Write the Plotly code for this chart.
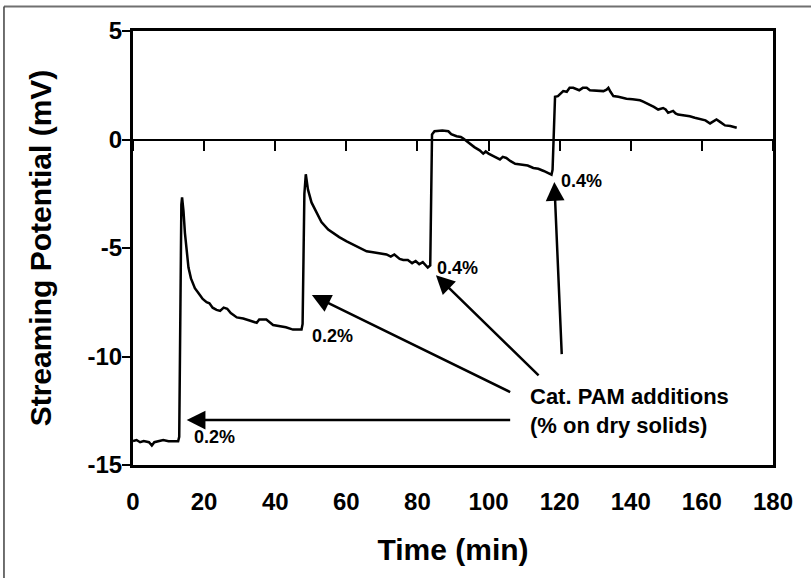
import plotly.graph_objects as go

# ---- data ----
time_min = [0, 1, 2, 3, 4.5, 5.3, 6, 7, 8.5, 10, 12.7,
            13.0, 13.2, 13.4, 13.6, 13.8, 14.2, 14.6, 15.1, 15.6, 16.3, 17.4, 18.5, 19.6, 20.7,
            21.5, 22.4, 23.5, 24.5, 25.5, 26.5, 27.5, 29.2, 31, 33, 34.8, 35.5, 37.5, 39.4, 41, 43, 45, 47.4,
            47.7, 47.9, 48.2, 48.6, 49.2, 50.2, 51.7, 53, 54.9, 56.5, 58, 60.1, 62, 64, 65.7, 67.5,
            69, 71.3, 72.5, 73.5, 75, 76, 77.3, 78.5, 79.5, 80.5, 81.5, 82.3, 82.9,
            83.6, 83.8, 84.0, 84.1, 84.8, 85.9, 87, 88.7, 89.5, 91, 92.2, 92.9, 94, 94.8, 96, 97.5,
            98.5, 99.2, 100, 101.5, 103.2, 104, 105, 106.2, 107.5, 109, 111, 112.6, 114, 115.5, 116.8, 117.7,
            118.0, 118.3, 118.7, 119.5, 120.3, 121, 122, 122.8, 123.8, 124.8, 125.5, 126.5, 127.6, 128.5,
            130, 132.3, 133.2, 133.7, 134.3, 135.1, 136.5, 138.8, 140.5, 142.6, 143.5, 145.4, 146.5, 147.7,
            149.1, 149.8, 150.5, 151.9, 152.6, 153.3, 155, 156.6, 158, 159.4, 161, 162.3, 163.2, 164.1,
            165.2, 166.5, 168, 169.8]
potential_mv = [-13.9, -13.85, -13.95, -13.9, -13.95, -14.1, -13.95, -13.9, -13.85, -13.9, -13.9,
                -13.7, -10.0, -6.0, -3.0, -2.67, -3.3, -4.3, -5.3, -5.9, -6.4, -6.85, -7.1, -7.35, -7.5,
                -7.55, -7.75, -7.85, -7.9, -7.75, -7.8, -8.0, -8.2, -8.25, -8.35, -8.45, -8.3, -8.3, -8.55, -8.6, -8.65, -8.76, -8.76,
                -8.5, -5.0, -2.5, -1.6, -2.3, -2.9, -3.4, -3.8, -4.15, -4.35, -4.5, -4.69, -4.85, -5.0, -5.15, -5.2,
                -5.25, -5.3, -5.4, -5.3, -5.5, -5.55, -5.55, -5.7, -5.6, -5.75, -5.65, -5.8, -5.9,
                -5.8, -3.0, 0.0, 0.23, 0.38, 0.41, 0.41, 0.38, 0.25, 0.15, 0.12, 0.05, -0.1, -0.23, -0.35, -0.5,
                -0.65, -0.55, -0.65, -0.78, -0.92, -0.8, -0.85, -1.0, -1.12, -1.15, -1.2, -1.31, -1.35, -1.45, -1.55, -1.62,
                -1.4, 0.5, 1.97, 2.0, 2.15, 2.23, 2.2, 2.38, 2.38, 2.3, 2.27, 2.38, 2.38, 2.27,
                2.25, 2.23, 2.3, 2.38, 2.2, 2.0, 1.97, 1.88, 1.85, 1.81, 1.75, 1.61, 1.5, 1.38,
                1.45, 1.38, 1.23, 1.32, 1.2, 1.15, 1.12, 1.07, 1.0, 0.95, 0.88, 0.74, 0.85, 0.92,
                0.8, 0.65, 0.62, 0.54]

x_ticks = [0, 20, 40, 60, 80, 100, 120, 140, 160, 180]
x_tick_text = ["0", "20", "40", "60", "80", "100", "120", "140", "160", "180"]
y_ticks = [-15, -10, -5, 0, 5]
y_tick_text = ["-15", "-10", "-5", "0", "5"]
x_range = [0, 180]
y_range = [-15, 5]

# dose labels next to each addition
dose_labels = ["0.2%", "0.2%", "0.4%", "0.4%"]
dose_x = [16.5, 49.8, 84.9, 119.8]
dose_y = [-13.73, -9.06, -5.9, -1.89]

# arrows: head (x, y) and tail (ax, ay) in data units
arrow_head_x = [15.1, 50.3, 85.2, 118.5]
arrow_head_y = [-12.93, -7.17, -6.25, -1.96]
arrow_tail_x = [106.5, 106.5, 114.5, 120.6]
arrow_tail_y = [-12.93, -11.67, -10.94, -9.96]

FONT = "Liberation Sans, Arial, sans-serif"

fig = go.Figure()
fig.add_trace(go.Scatter(x=time_min, y=potential_mv, mode="lines",
                         line=dict(color="black", width=2.5),
                         showlegend=False, hoverinfo="skip"))
# invisible host trace so the zero-line axis (x2) is drawn
fig.add_trace(go.Scatter(x=[x_range[0]], y=[0], xaxis="x2", yaxis="y", mode="markers",
                         marker=dict(opacity=0), showlegend=False, hoverinfo="skip"))

annotations = []
for t, x, y in zip(dose_labels, dose_x, dose_y):
    annotations.append(dict(x=x, y=y, xref="x", yref="y", text=t, showarrow=False,
                            xanchor="left", yanchor="middle",
                            font=dict(family=FONT, size=18, color="black", weight="bold")))
for hx, hy, tx, ty in zip(arrow_head_x, arrow_head_y, arrow_tail_x, arrow_tail_y):
    annotations.append(dict(x=hx, y=hy, xref="x", yref="y", ax=tx, ay=ty, axref="x", ayref="y",
                            text="", showarrow=True, arrowhead=2, arrowsize=1.5, arrowwidth=2.5,
                            arrowcolor="black", standoff=0, startstandoff=0))
annotations.append(dict(x=111.1, y=-12.5, xref="x", yref="y",
                        text="Cat. PAM additions<br>(% on dry solids)", showarrow=False,
                        xanchor="left", yanchor="middle", align="left",
                        font=dict(family=FONT, size=22, color="black", weight="bold")))

zero_pos = (0 - y_range[0]) / (y_range[1] - y_range[0])

fig.update_layout(
    width=811, height=578,
    margin=dict(l=133, r=38, t=31, b=113),
    paper_bgcolor="white", plot_bgcolor="white",
    font=dict(family=FONT, color="black"),
    xaxis=dict(range=x_range, tickvals=x_ticks, ticktext=x_tick_text, showline=True,
               linecolor="black", linewidth=3,
               mirror=True, ticks="", showgrid=False, zeroline=False,
               tickfont=dict(family=FONT, size=24, weight="bold"), ticklabelstandoff=13,
               title=dict(text="Time (min)", font=dict(family=FONT, size=30, weight="bold"), standoff=26)),
    xaxis2=dict(range=x_range, tickvals=x_ticks, overlaying="x", anchor="free", position=zero_pos,
                showline=True, linecolor="black", linewidth=2, ticks="outside", ticklen=10,
                tickwidth=2, tickcolor="black", showticklabels=False, showgrid=False, zeroline=False),
    yaxis=dict(range=y_range, tickvals=y_ticks, ticktext=y_tick_text, showline=True,
               linecolor="black", linewidth=3,
               mirror=True, ticks="outside", ticklen=8, tickwidth=2, tickcolor="black",
               showgrid=False, zeroline=False, ticklabelstandoff=-5,
               tickfont=dict(family=FONT, size=24, weight="bold"),
               title=dict(text="Streaming Potential (mV)", font=dict(family=FONT, size=30, weight="bold"),
                          standoff=28)),
    annotations=annotations,
    shapes=[
        dict(type="line", xref="paper", yref="paper", x0=-0.2016, x1=1.06, y0=1.0565, y1=1.0565,
             line=dict(color="#707070", width=2)),
        dict(type="line", xref="paper", yref="paper", x0=-0.2016, x1=-0.2016, y0=1.0565, y1=-0.27,
             line=dict(color="#404040", width=1.5)),
    ],
)

fig.write_html("out.html", config={"displayModeBar": False},
               post_script="document.body.style.margin='0';")
